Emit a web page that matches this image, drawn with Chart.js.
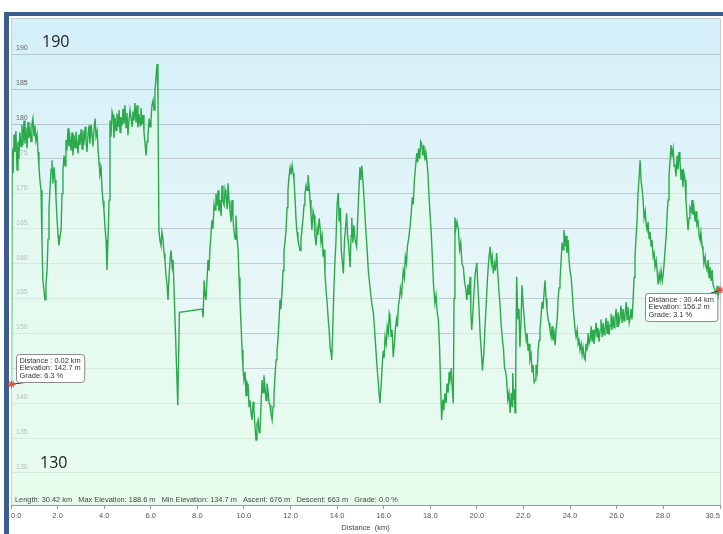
<!DOCTYPE html>
<html>
<head>
<meta charset="utf-8">
<script src="https://cdn.jsdelivr.net/npm/chart.js@4/dist/chart.umd.min.js"></script>
<style>
body { margin: 0; background: #fff; }
canvas { display: block; }
</style>
</head>
<body>
<canvas id="profile" width="723" height="534"></canvas>
<script>
(function () {

// elevation profile (rows of ten)
var distanceKm = [
	0.02,0.05,0.09,0.13,0.17,0.21,0.26,0.30,0.34,0.38,
	0.43,0.47,0.51,0.56,0.60,0.64,0.69,0.73,0.77,0.82,
	0.86,0.90,0.94,0.99,1.03,1.07,1.12,1.16,1.20,1.24,
	1.29,1.33,1.37,1.42,1.46,1.50,1.55,1.59,1.63,1.68,
	1.72,1.76,1.80,1.85,1.89,1.93,1.98,2.02,2.06,2.10,
	2.15,2.19,2.23,2.28,2.32,2.36,2.40,2.45,2.49,2.53,
	2.58,2.62,2.66,2.71,2.75,2.79,2.83,2.88,2.92,2.96,
	3.01,3.05,3.09,3.13,3.18,3.22,3.26,3.31,3.35,3.39,
	3.44,3.48,3.52,3.57,3.61,3.65,3.70,3.74,3.78,3.82,
	3.87,3.91,3.95,3.99,4.04,4.08,4.12,4.17,4.21,4.25,
	4.29,4.34,4.38,4.42,4.47,4.51,4.55,4.60,4.64,4.68,
	4.72,4.77,4.81,4.85,4.89,4.94,4.98,5.02,5.07,5.11,
	5.15,5.20,5.24,5.28,5.32,5.37,5.41,5.45,5.50,5.54,
	5.58,5.63,5.67,5.71,5.76,5.80,5.84,5.88,5.93,5.97,
	6.01,6.05,6.10,6.14,6.18,6.22,6.27,6.31,6.35,6.40,
	6.44,6.48,6.53,6.57,6.61,6.66,6.70,6.74,6.79,6.83,
	6.87,6.92,6.96,7.16,7.23,8.21,8.25,8.29,8.33,8.37,
	8.42,8.46,8.50,8.54,8.59,8.63,8.67,8.72,8.76,8.80,
	8.85,8.89,8.93,8.97,9.02,9.06,9.10,9.15,9.19,9.23,
	9.28,9.32,9.36,9.40,9.45,9.49,9.53,9.57,9.62,9.66,
	9.70,9.75,9.79,9.83,9.88,9.92,9.96,10.00,10.05,10.09,
	10.13,10.18,10.22,10.26,10.31,10.35,10.39,10.43,10.48,10.52,
	10.56,10.61,10.65,10.69,10.74,10.78,10.82,10.86,10.91,10.95,
	10.99,11.03,11.08,11.12,11.16,11.21,11.25,11.29,11.33,11.38,
	11.42,11.46,11.51,11.55,11.59,11.64,11.68,11.72,11.76,11.81,
	11.85,11.89,11.94,11.98,12.02,12.07,12.11,12.15,12.20,12.24,
	12.28,12.32,12.37,12.41,12.45,12.49,12.54,12.58,12.62,12.67,
	12.71,12.75,12.80,12.84,12.88,12.92,12.97,13.01,13.05,13.10,
	13.14,13.18,13.23,13.27,13.31,13.36,13.40,13.44,13.48,13.53,
	13.57,13.62,13.66,13.70,13.75,13.77,13.81,13.86,13.91,13.95,
	14.00,14.05,14.09,14.14,14.18,14.23,14.27,14.32,14.36,14.41,
	14.45,14.50,14.56,14.60,14.63,14.68,14.72,14.77,14.84,14.88,
	14.93,14.98,15.02,15.06,15.13,15.18,15.23,15.29,15.34,15.40,
	15.45,15.50,15.56,15.60,15.63,15.68,15.72,15.77,15.80,15.84,
	15.89,15.93,15.98,16.02,16.06,16.11,16.15,16.20,16.24,16.27,
	16.32,16.36,16.41,16.46,16.50,16.55,16.59,16.63,16.68,16.72,
	16.77,16.84,16.89,16.93,16.98,17.02,17.07,17.13,17.18,17.23,
	17.27,17.32,17.36,17.42,17.46,17.50,17.55,17.59,17.63,17.68,
	17.72,17.77,17.81,17.85,17.90,17.94,17.99,18.04,18.09,18.14,
	18.20,18.25,18.30,18.35,18.40,18.45,18.49,18.54,18.58,18.63,
	18.68,18.72,18.77,18.81,18.85,18.90,18.94,18.99,19.02,19.06,
	19.10,19.15,19.21,19.26,19.31,19.36,19.42,19.47,19.52,19.57,
	19.62,19.66,19.71,19.74,19.78,19.83,19.88,19.93,20.00,20.04,
	20.09,20.14,20.19,20.24,20.30,20.35,20.40,20.46,20.51,20.57,
	20.62,20.66,20.71,20.76,20.80,20.85,20.90,20.95,21.00,21.05,
	21.10,21.14,21.19,21.24,21.28,21.33,21.38,21.43,21.48,21.52,
	21.54,21.58,21.61,21.64,21.67,21.71,21.76,21.81,21.85,21.90,
	21.94,21.99,22.03,22.07,22.12,22.16,22.20,22.24,22.28,22.33,
	22.37,22.41,22.46,22.50,22.54,22.59,22.63,22.67,22.71,22.76,
	22.80,22.84,22.89,22.93,22.97,23.01,23.06,23.10,23.14,23.19,
	23.23,23.27,23.32,23.36,23.40,23.45,23.49,23.53,23.57,23.62,
	23.66,23.70,23.74,23.79,23.83,23.87,23.92,23.96,24.00,24.05,
	24.09,24.13,24.18,24.22,24.26,24.31,24.35,24.39,24.43,24.48,
	24.52,24.56,24.61,24.65,24.69,24.73,24.78,24.82,24.86,24.91,
	24.95,24.99,25.03,25.07,25.12,25.16,25.20,25.25,25.29,25.33,
	25.38,25.42,25.46,25.50,25.55,25.59,25.63,25.68,25.72,25.76,
	25.80,25.85,25.89,25.93,25.98,26.02,26.06,26.11,26.15,26.19,
	26.24,26.28,26.32,26.36,26.41,26.45,26.49,26.54,26.58,26.62,
	26.66,26.71,26.75,26.79,26.84,26.88,26.92,26.97,27.01,27.05,
	27.10,27.14,27.18,27.23,27.27,27.31,27.35,27.40,27.44,27.48,
	27.52,27.57,27.61,27.65,27.70,27.74,27.78,27.83,27.87,27.91,
	27.96,28.00,28.04,28.08,28.13,28.17,28.21,28.25,28.30,28.34,
	28.38,28.43,28.47,28.51,28.55,28.60,28.64,28.68,28.72,28.77,
	28.81,28.85,28.89,28.94,28.98,29.02,29.07,29.11,29.15,29.20,
	29.24,29.28,29.32,29.37,29.41,29.45,29.50,29.54,29.58,29.62,
	29.67,29.71,29.75,29.80,29.84,29.88,29.93,29.97,30.01,30.06,
	30.10,30.14,30.19,30.23,30.27,30.32,30.36,30.40,30.44
];

var elevationM = [
	142.7,176.5,173.0,178.5,176.0,179.0,173.4,177.5,175.0,178.8,
	176.8,179.9,177.0,180.5,177.2,179.5,176.5,180.3,178.0,179.2,
	177.5,180.0,180.8,178.3,179.8,177.6,178.5,176.0,174.0,172.0,
	170.5,163.0,157.6,156.0,154.8,157.0,159.1,163.5,167.7,171.0,
	173.5,174.8,171.5,173.8,172.0,169.5,166.2,164.0,162.6,163.8,
	164.8,170.0,173.4,175.5,174.0,177.7,176.2,179.4,176.8,178.0,
	176.2,178.8,175.5,178.4,176.6,178.9,177.7,175.8,178.5,177.0,
	179.3,176.4,179.1,177.0,179.6,177.7,176.0,178.6,179.8,177.2,
	179.9,178.4,176.8,179.5,180.8,178.2,179.0,176.2,174.5,172.7,
	173.5,170.5,169.0,167.7,165.0,163.4,159.1,164.0,169.1,180.5,
	178.2,181.8,181.3,178.0,180.9,179.1,181.5,179.6,182.0,178.8,
	181.0,179.8,182.2,180.0,182.7,179.5,181.6,178.4,180.7,182.0,
	182.0,179.6,181.8,180.5,183.0,180.2,182.7,179.5,181.4,179.8,
	182.3,180.0,181.3,178.8,177.0,175.5,177.5,178.4,180.8,179.6,
	180.5,182.6,183.4,182.0,184.8,186.5,188.6,183.4,164.8,163.2,
	162.6,164.5,163.4,161.5,160.5,158.0,157.0,154.8,158.5,160.5,
	161.9,159.5,160.5,139.7,153.0,153.5,152.3,157.6,155.5,154.8,
	158.0,160.5,159.0,161.9,164.5,166.2,165.0,168.5,167.7,170.0,
	168.3,170.5,167.5,169.1,166.8,171.2,169.0,168.4,170.6,169.8,
	167.8,171.5,169.0,167.7,166.0,169.1,166.5,164.8,163.5,166.9,
	164.0,161.9,158.0,154.8,151.0,147.6,145.0,143.3,144.5,141.1,
	143.0,142.6,139.5,140.4,138.5,137.6,140.2,139.0,136.5,134.7,
	137.0,137.6,135.8,136.1,140.0,143.3,141.5,144.0,142.0,140.4,
	142.8,141.9,140.0,139.7,138.5,137.6,139.5,141.1,143.5,146.2,
	147.5,149.0,152.0,154.8,153.5,156.2,159.0,161.9,163.0,164.8,
	168.0,170.5,172.5,173.7,172.8,174.1,173.0,172.0,169.0,166.2,
	164.5,163.4,162.5,161.9,163.5,164.8,166.5,168.4,170.0,171.2,
	170.5,172.7,171.0,169.1,167.0,164.8,167.5,166.9,164.0,162.6,
	165.0,164.1,166.5,165.2,163.0,164.0,161.0,162.0,158.6,156.0,
	154.5,152.0,150.5,148.0,147.0,146.2,150.0,156.0,160.5,163.0,
	168.5,170.1,166.0,168.0,162.0,160.0,158.6,163.5,165.0,167.2,
	164.0,162.5,159.5,164.0,166.6,163.0,165.5,163.5,162.4,166.0,
	170.0,173.8,172.0,174.0,170.9,168.0,165.0,162.0,159.0,157.0,
	155.5,154.0,152.9,151.0,149.5,147.0,145.0,143.0,141.5,140.0,
	142.5,145.0,147.5,146.5,149.5,148.5,151.0,150.0,152.8,152.3,
	149.5,150.5,146.6,148.5,150.5,152.0,151.0,153.8,155.0,156.5,
	155.5,159.0,158.0,161.0,160.0,162.5,163.5,165.2,167.0,169.5,
	168.5,172.0,173.5,175.8,174.5,176.5,175.0,177.5,177.2,175.5,
	177.0,174.8,176.0,174.8,173.0,170.0,167.2,164.5,161.0,157.0,
	154.3,155.5,153.0,151.9,148.0,142.0,137.6,140.5,139.0,141.4,
	140.0,142.8,141.5,144.5,143.3,145.0,142.5,140.0,155.0,166.6,
	165.0,166.0,164.8,162.0,163.0,160.0,159.5,157.5,156.5,154.8,
	157.0,155.5,158.1,153.5,150.5,153.0,156.0,158.5,160.1,157.0,
	154.0,150.0,147.5,144.7,147.0,150.9,154.0,158.0,160.5,162.4,
	160.0,161.0,158.6,160.0,159.0,161.5,158.5,156.0,153.8,151.0,
	149.0,148.0,145.0,144.5,143.3,140.5,141.5,138.6,141.5,139.5,
	144.3,140.5,142.0,138.6,145.0,158.1,152.0,153.5,148.0,152.0,
	156.9,154.0,152.5,150.5,149.0,150.0,147.5,148.5,146.2,147.0,
	144.5,145.5,143.0,143.3,145.5,144.5,147.5,149.0,150.5,152.5,
	154.5,153.5,156.0,157.6,155.0,153.5,152.0,151.5,150.5,149.5,
	151.0,149.0,150.0,148.3,150.5,152.0,155.0,156.5,157.6,160.5,
	163.0,162.0,164.8,162.5,164.0,161.5,163.4,160.5,159.0,158.0,
	156.2,154.0,152.0,150.5,149.5,150.5,148.5,149.0,147.6,148.5,
	147.0,148.0,146.5,146.2,148.5,147.5,150.0,148.5,149.0,151.0,
	148.8,150.5,148.5,149.7,151.5,149.5,150.8,148.8,150.5,152.0,
	149.5,151.5,149.8,150.5,152.2,150.0,151.8,149.8,151.2,152.8,
	150.5,152.5,150.8,151.9,153.5,151.0,153.0,151.5,152.2,154.0,
	151.5,153.5,151.8,152.6,154.5,152.0,153.8,151.5,152.2,153.5,
	152.0,154.8,158.0,161.0,164.0,166.2,170.0,172.5,174.8,172.0,
	170.5,169.1,166.5,167.5,165.5,164.8,166.0,163.5,164.5,162.5,
	163.4,161.0,161.5,159.5,160.5,159.1,157.0,158.5,157.6,159.0,
	157.5,158.5,160.0,161.9,164.0,167.0,169.1,172.5,175.0,177.0,
	175.5,176.5,174.0,174.1,172.5,175.5,173.5,176.0,174.8,172.0,
	173.5,171.0,173.0,172.0,169.0,167.0,164.8,166.5,168.0,167.5,
	169.1,167.0,168.0,166.0,167.5,165.5,166.0,164.0,163.4,164.5,
	162.5,161.9,160.0,161.0,159.5,159.1,160.5,158.0,159.5,157.5,
	159.1,157.0,156.5,156.2,155.0,156.8,155.5,156.5,156.2
];

var yTicks = [130, 135, 140, 145, 150, 155, 160, 165, 170, 175, 180, 185, 190];
var xTickValues = [0, 2, 4, 6, 8, 10, 12, 14, 16, 18, 20, 22, 24, 26, 28, 30.44];
var xTickLabels = ['0.0', '2.0', '4.0', '6.0', '8.0', '10.0', '12.0', '14.0', '16.0', '18.0', '20.0', '22.0', '24.0', '26.0', '28.0', '30.5'];

var statsText = ['Length: 30.42 km', 'Max Elevation: 188.6 m', 'Min Elevation: 134.7 m', 'Ascent: 676 m', 'Descent: 663 m', 'Grade: 0.0 %'];
var startInfo = ['Distance : 0.02 km', 'Elevation: 142.7 m', 'Grade: 6.3 %'];
var endInfo = ['Distance : 30.44 km', 'Elevation: 156.2 m', 'Grade: 3.1 %'];
var bigLabels = [190, 130];

var FONT = '"Liberation Sans", Arial, sans-serif';

var points = [];
for (var i = 0, len = Math.min(distanceKm.length, elevationM.length); i < len; i++) {
	points.push({ x: distanceKm[i], y: elevationM[i] });
}

var backdrop = {
	id: 'backdrop',
	beforeDraw: function (chart) {
		var ctx = chart.ctx;
		var a = chart.chartArea;
		ctx.save();
		ctx.fillStyle = '#fff';
		ctx.fillRect(0, 0, chart.width, chart.height);
		// blue frame
		ctx.fillStyle = '#3a5d8c';
		ctx.fillRect(4, 12, chart.width - 4, 4);
		ctx.fillRect(4, 12, 5, chart.height - 12);
		var g = ctx.createLinearGradient(0, a.top, 0, a.bottom);
		g.addColorStop(0, '#d3eff9');
		g.addColorStop(0.5, '#e6f6f8');
		g.addColorStop(1, '#ebfbf1');
		ctx.fillStyle = g;
		ctx.fillRect(a.left, a.top, a.right - a.left, a.bottom - a.top);
		ctx.restore();
	},
	afterDraw: function (chart) {
		var ctx = chart.ctx;
		var a = chart.chartArea;
		var xs = chart.scales.x;
		var ys = chart.scales.y;
		ctx.save();
		ctx.strokeStyle = '#c9cdd0';
		ctx.lineWidth = 1;
		ctx.beginPath();
		ctx.moveTo(a.left + 0.5, a.bottom);
		ctx.lineTo(a.left + 0.5, a.top + 0.5);
		ctx.lineTo(a.right + 0.5, a.top + 0.5);
		ctx.lineTo(a.right + 0.5, a.bottom);
		ctx.stroke();

		// big range labels
		ctx.fillStyle = '#1e1e1e';
		ctx.font = '16px "Open Sans", ' + FONT;
		ctx.textBaseline = 'middle';
		ctx.textAlign = 'left';
		ctx.fillText(String(bigLabels[0]), a.left + 31, ys.getPixelForValue(bigLabels[0]) - 12);
		ctx.fillText(String(bigLabels[1]), a.left + 29, ys.getPixelForValue(bigLabels[1]) - 9);

		// summary line
		ctx.font = '7.4px ' + FONT;
		ctx.fillStyle = '#444';
		ctx.textBaseline = 'bottom';
		ctx.fillText(statsText.join('   '), a.left + 4, a.bottom - 1);

		// start / end markers
		var n = points.length - 1;
		drawInfo(ctx, xs.getPixelForValue(points[0].x), ys.getPixelForValue(points[0].y), startInfo, 'start');
		drawInfo(ctx, xs.getPixelForValue(points[n].x), ys.getPixelForValue(points[n].y), endInfo, 'end');
		ctx.restore();
	}
};

function drawInfo(ctx, px, py, lines, side) {
	ctx.font = '7.4px ' + FONT;
	var w = 0;
	for (var i = 0; i < lines.length; i++) {
		w = Math.max(w, ctx.measureText(lines[i]).width);
	}
	w += 7;
	var h = 28;
	var bx, by, cx, cy;
	if (side === 'start') {
		bx = px + 5; by = py - 30;
		cx = bx + 10; cy = by + h;
	} else {
		bx = px - w - 3; by = py + 3;
		cx = bx + w - 6; cy = by;
	}
	bx = Math.round(bx) + 0.5;
	by = Math.round(by) + 0.5;
	// connector
	ctx.strokeStyle = '#333';
	ctx.lineWidth = 1;
	ctx.beginPath();
	ctx.moveTo(px, py);
	ctx.lineTo(cx, cy);
	ctx.stroke();
	// box
	ctx.fillStyle = '#fff';
	ctx.strokeStyle = '#8a8a8a';
	ctx.beginPath();
	ctx.roundRect(bx, by, w, h, 3);
	ctx.fill();
	ctx.stroke();
	ctx.fillStyle = '#333';
	ctx.textAlign = 'left';
	ctx.textBaseline = 'middle';
	for (var j = 0; j < lines.length; j++) {
		ctx.fillText(lines[j], bx + 3, by + 6 + j * 7.5);
	}
	// red cross
	ctx.strokeStyle = '#e0524a';
	ctx.lineWidth = 1.2;
	ctx.beginPath();
	ctx.moveTo(px - 4, py); ctx.lineTo(px + 4, py);
	ctx.moveTo(px, py - 4); ctx.lineTo(px, py + 4);
	ctx.moveTo(px - 2.5, py - 2.5); ctx.lineTo(px + 2.5, py + 2.5);
	ctx.moveTo(px - 2.5, py + 2.5); ctx.lineTo(px + 2.5, py - 2.5);
	ctx.stroke();
}

new Chart(document.getElementById('profile'), {
	type: 'line',
	data: {
		datasets: [{
			data: points,
			borderColor: '#2aaa4b',
			borderWidth: 1.4,
			backgroundColor: 'rgba(228,251,235,0.6)',
			fill: 'start',
			pointRadius: 0,
			tension: 0
		}]
	},
	options: {
		responsive: false,
		animation: false,
		layout: { padding: { left: 11, top: 18, right: 3, bottom: 0 } },
		plugins: {
			legend: { display: false },
			tooltip: { enabled: false }
		},
		scales: {
			x: {
				type: 'linear',
				min: 0,
				max: 30.44,
				afterFit: function (s) { s.height = 29; },
				afterBuildTicks: function (s) {
					s.ticks = xTickValues.map(function (v) { return { value: v }; });
				},
				grid: { drawOnChartArea: false, drawTicks: true, tickLength: 4, color: '#999' },
				border: { color: '#999' },
				ticks: {
					align: 'inner',
					autoSkip: false,
					maxRotation: 0,
					padding: 2,
					color: '#555',
					font: { family: FONT, size: 7.5 },
					callback: function (v, i) { return xTickLabels[i]; }
				},
				title: {
					display: true,
					text: 'Distance  (km)',
					color: '#444',
					font: { family: FONT, size: 7.5 },
					padding: { top: 1, bottom: 2 }
				}
			},
			y: {
				min: 125.4,
				max: 195.2,
				afterFit: function (s) { s.width = 0; },
				afterBuildTicks: function (s) {
					s.ticks = yTicks.map(function (v) { return { value: v }; });
				},
				grid: { color: 'rgba(140,150,155,0.45)', drawTicks: false },
				border: { display: false },
				ticks: {
					mirror: true,
					padding: 5,
					labelOffset: -6,
					color: '#666',
					font: { family: FONT, size: 7 }
				}
			}
		}
	},
	plugins: [backdrop]
});

}());
</script>
</body>
</html>
